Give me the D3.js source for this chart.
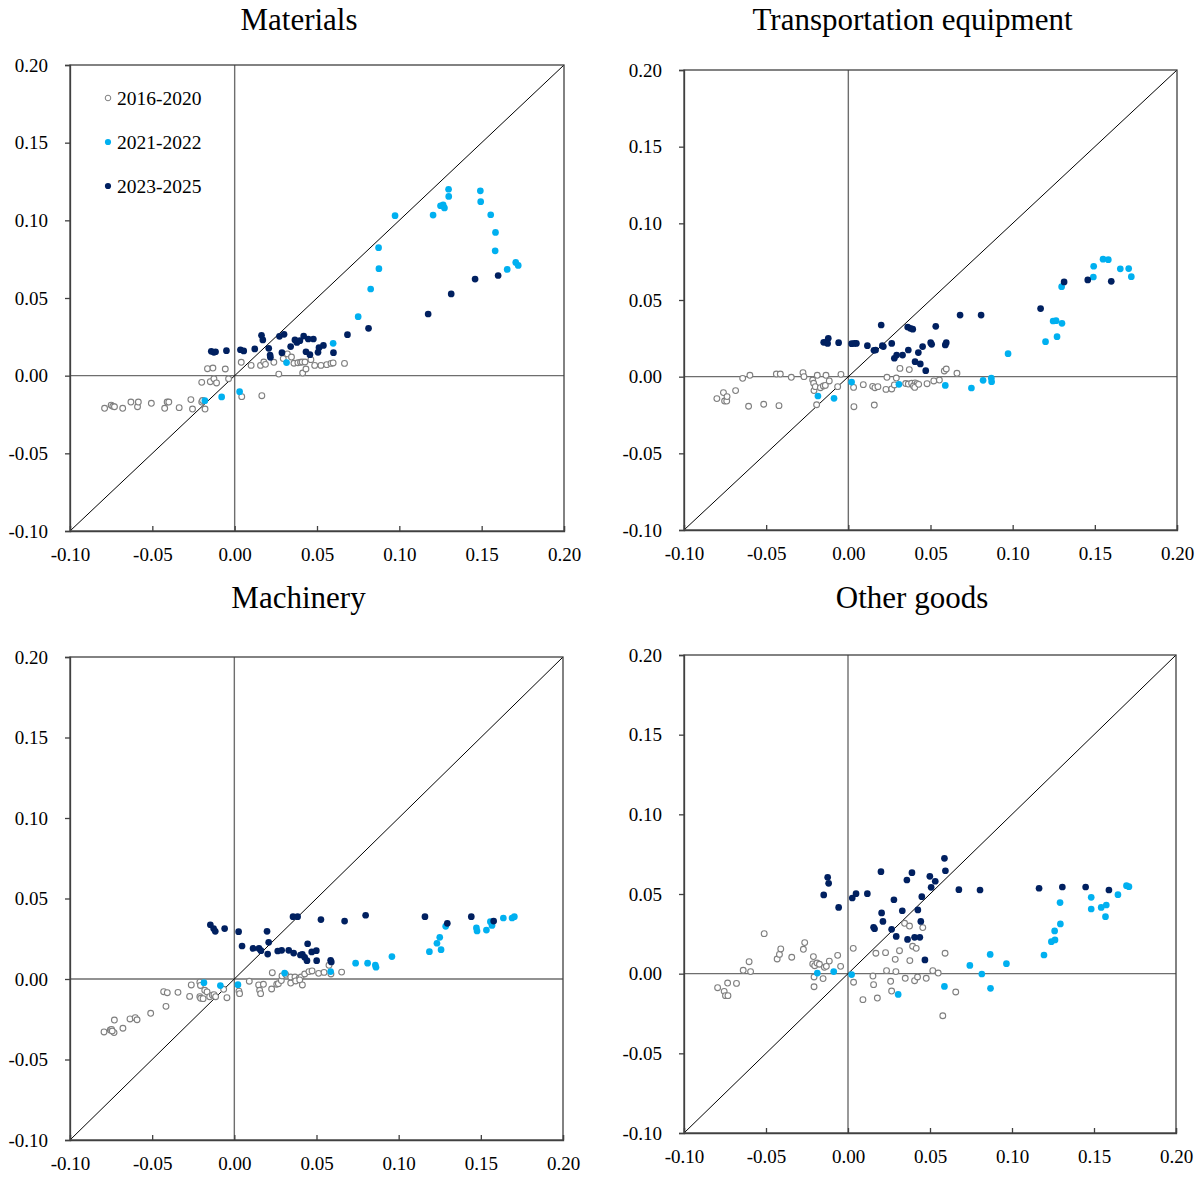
<!DOCTYPE html>
<html><head><meta charset="utf-8">
<script src="https://cdn.jsdelivr.net/npm/d3@7"></script>
<style>
body{margin:0;background:#fff;}
text{font-family:"Liberation Serif","Times New Roman",serif;fill:#000;}
</style></head>
<body><svg id="c" width="1204" height="1178"></svg>
<script>
const panelTitles = ["Materials","Transportation equipment","Machinery","Other goods"];
const seriesNames = ["2016-2020","2021-2022","2023-2025"];
const tickValues = [-0.10,-0.05,0.00,0.05,0.10,0.15,0.20];

const materials2016 = [[-0.079,-0.021],[-0.075,-0.019],[-0.074,-0.0197],[-0.073,-0.020],[-0.068,-0.021],[-0.063,-0.017],[-0.059,-0.020],[-0.0585,-0.017],[-0.0506,-0.0178],[-0.0425,-0.021],[-0.041,-0.017],[-0.040,-0.017],[-0.0337,-0.0206],[-0.0266,-0.0154],[-0.0256,-0.0215],[-0.020,-0.017],[-0.0195,-0.016],[-0.018,-0.0215],[-0.020,-0.0043],[-0.0148,-0.0039],[-0.0126,-0.002],[-0.011,-0.0047],[-0.0165,0.0045],[-0.0132,0.0049],[-0.0057,0.0043],[-0.0037,-0.002],[0.004,0.0086],[0.0043,-0.0135],[0.010,0.0066],[0.0157,0.0066],[0.0165,-0.0129],[0.0177,0.0088],[0.0187,0.0073],[0.0238,0.0086],[0.0268,0.001],[0.0295,0.011],[0.032,0.014],[0.0345,0.012],[0.036,0.008],[0.0384,0.0083],[0.040,0.0086],[0.041,0.0088],[0.0427,0.0088],[0.0413,0.0017],[0.0433,0.0043],[0.0463,0.0103],[0.0486,0.0066],[0.0524,0.0066],[0.0559,0.0071],[0.0585,0.0079],[0.0598,0.0082],[0.0667,0.0079]];
const materials2021 = [[-0.0181,-0.0161],[-0.0079,-0.0137],[0.003,-0.0103],[0.0315,0.0084],[0.0598,0.0208],[0.075,0.038],[0.0826,0.0558],[0.0876,0.0689],[0.0874,0.0824],[0.0974,0.103],[0.1205,0.1034],[0.125,0.1094],[0.1266,0.110],[0.1274,0.108],[0.1299,0.120],[0.130,0.1154],[0.1492,0.119],[0.1494,0.112],[0.1555,0.1036],[0.1584,0.0922],[0.1582,0.0804],[0.1655,0.0684],[0.1707,0.0729],[0.1722,0.071]];
const materials2023 = [[-0.0142,0.0157],[-0.0126,0.015],[-0.0116,0.0154],[-0.005,0.0161],[0.0035,0.0167],[0.0055,0.0159],[0.0122,0.0172],[0.0163,0.026],[0.0171,0.023],[0.0207,0.0176],[0.0215,0.0133],[0.0217,0.0118],[0.0272,0.0253],[0.030,0.0266],[0.0287,0.0148],[0.034,0.0187],[0.0366,0.023],[0.0378,0.0214],[0.0396,0.0225],[0.0419,0.0255],[0.0447,0.0236],[0.0478,0.0236],[0.0433,0.0154],[0.0457,0.0135],[0.0512,0.018],[0.0539,0.0195],[0.0506,0.015],[0.060,0.0148],[0.0685,0.0264],[0.0813,0.0305],[0.1175,0.0397],[0.1315,0.0526],[0.146,0.0622],[0.160,0.0645]];

const transport2016 = [[-0.080,-0.0143],[-0.076,-0.0104],[-0.0753,-0.0159],[-0.074,-0.0159],[-0.0738,-0.013],[-0.0686,-0.0091],[-0.0643,-0.0011],[-0.0599,0.0009],[-0.0607,-0.0193],[-0.0515,-0.018],[-0.0438,0.0017],[-0.0414,0.0017],[-0.0422,-0.0189],[-0.0347,-0.0004],[-0.0276,0.0026],[-0.027,0],[-0.0217,-0.0022],[-0.0211,-0.0043],[-0.0209,-0.0091],[-0.0201,-0.0065],[-0.0189,0.0009],[-0.0136,0.0009],[-0.017,-0.0072],[-0.0152,-0.0061],[-0.014,-0.0057],[-0.0116,-0.0028],[-0.0065,-0.0065],[-0.0045,0.0015],[-0.0193,-0.0183],[0.0032,-0.007],[0.0034,-0.0196],[0.0091,-0.0052],[0.0148,-0.0063],[0.0162,-0.0072],[0.018,-0.0065],[0.0158,-0.0185],[0.0229,-0.0083],[0.0235,-0.0004],[0.0264,-0.008],[0.028,-0.0054],[0.0292,-0.0009],[0.0314,0.0054],[0.0349,-0.0045],[0.0365,-0.0048],[0.0385,-0.0043],[0.0406,-0.0041],[0.0418,-0.0046],[0.0371,0.0046],[0.0396,-0.0061],[0.0404,-0.007],[0.0428,-0.005],[0.0479,-0.0046],[0.052,-0.0028],[0.0554,-0.0022],[0.0584,0.0037],[0.0596,0.005],[0.0661,0.0022]];
const transport2021 = [[-0.0185,-0.0126],[-0.0087,-0.0141],[0.002,-0.0035],[0.0308,-0.005],[0.059,-0.0057],[0.0749,-0.0074],[0.082,-0.0024],[0.087,-0.001],[0.0872,-0.0033],[0.0972,0.015],[0.120,0.0228],[0.127,0.0261],[0.1246,0.0363],[0.1264,0.0365],[0.130,0.0348],[0.1298,0.0587],[0.1491,0.065],[0.1493,0.072],[0.155,0.0766],[0.1582,0.0763],[0.1655,0.0703],[0.1706,0.0705],[0.1722,0.0652]];
const transport2023 = [[-0.015,0.0224],[-0.0134,0.0224],[-0.0122,0.025],[-0.0126,0.0217],[-0.0059,0.0222],[0.002,0.0215],[0.0037,0.0217],[0.0049,0.0217],[0.0116,0.0202],[0.0156,0.0172],[0.0166,0.0174],[0.020,0.0337],[0.0207,0.0202],[0.0213,0.0196],[0.0264,0.0217],[0.028,0.012],[0.0294,0.0141],[0.033,0.0141],[0.0361,0.0324],[0.0377,0.0315],[0.0392,0.031],[0.0365,0.0174],[0.0406,0.0098],[0.0426,0.0157],[0.0438,0.0083],[0.0452,0.0196],[0.0471,0.0039],[0.0501,0.0222],[0.0507,0.0211],[0.0532,0.0328],[0.059,0.0207],[0.0596,0.0222],[0.068,0.0402],[0.0808,0.0402],[0.117,0.0444],[0.1313,0.0618],[0.1457,0.0631],[0.160,0.0622]];

const machinery2016 = [[-0.0793,-0.0329],[-0.0755,-0.0317],[-0.0747,-0.0313],[-0.0732,-0.0333],[-0.0743,-0.0323],[-0.073,-0.0255],[-0.0678,-0.0306],[-0.0635,-0.0248],[-0.0603,-0.024],[-0.0592,-0.0253],[-0.0509,-0.0213],[-0.0416,-0.017],[-0.043,-0.0079],[-0.0408,-0.0085],[-0.0343,-0.0083],[-0.0272,-0.0108],[-0.0262,-0.0037],[-0.021,-0.002],[-0.0206,-0.004],[-0.021,-0.011],[-0.0205,-0.012],[-0.019,-0.0122],[-0.018,-0.007],[-0.0166,-0.008],[-0.015,-0.011],[-0.0134,-0.010],[-0.0124,-0.0097],[-0.0114,-0.011],[-0.0065,-0.0064],[-0.0045,-0.0116],[0.0028,-0.0075],[0.0032,-0.0091],[0.0091,-0.0014],[0.0148,-0.0037],[0.0154,-0.007],[0.016,-0.0091],[0.0177,-0.0033],[0.0227,-0.0062],[0.0231,0.0039],[0.0258,-0.0033],[0.0268,-0.0029],[0.0286,-0.001],[0.029,0.0019],[0.0312,0.0029],[0.0343,0.0012],[0.0369,0.0012],[0.0394,0.0004],[0.0406,0.0012],[0.0343,-0.0025],[0.0373,-0.0012],[0.0398,-0.0006],[0.0414,-0.0037],[0.0428,0.0031],[0.0454,0.0046],[0.0473,0.005],[0.0513,0.0035],[0.0546,0.0041],[0.0576,0.0085],[0.0588,0.0031],[0.0653,0.0043]];
const machinery2021 = [[-0.0185,-0.0023],[-0.0085,-0.0041],[0.0022,-0.0035],[0.0306,0.0037],[0.0586,0.0046],[0.0738,0.0098],[0.0811,0.0098],[0.0858,0.0087],[0.0862,0.0073],[0.0959,0.0139],[0.1187,0.017],[0.1233,0.0222],[0.125,0.0259],[0.1258,0.0182],[0.1286,0.0327],[0.1473,0.0317],[0.1477,0.0298],[0.1534,0.0304],[0.1558,0.0356],[0.1568,0.0333],[0.1637,0.0379],[0.169,0.0379],[0.1704,0.0387]];
const machinery2023 = [[-0.0146,0.0337],[-0.0126,0.0313],[-0.0116,0.0296],[-0.0059,0.0313],[0.0026,0.0294],[0.0047,0.0205],[0.0114,0.019],[0.015,0.019],[0.0162,0.0176],[0.0199,0.0296],[0.0209,0.0228],[0.0203,0.0155],[0.0264,0.0174],[0.0288,0.0178],[0.0331,0.0178],[0.0357,0.0387],[0.0385,0.0387],[0.0361,0.0161],[0.0402,0.0149],[0.0414,0.0153],[0.0428,0.0135],[0.0442,0.0114],[0.0446,0.0219],[0.0471,0.0168],[0.0499,0.0176],[0.0501,0.0114],[0.0527,0.0369],[0.0586,0.0116],[0.059,0.0106],[0.0671,0.036],[0.0799,0.0396],[0.116,0.0387],[0.1296,0.0346],[0.1442,0.0387],[0.1578,0.036]];

const other2016 = [[-0.0795,-0.0088],[-0.0755,-0.0111],[-0.0747,-0.0138],[-0.0732,-0.0138],[-0.0734,-0.0059],[-0.068,-0.0061],[-0.0639,0.0021],[-0.0594,0.0013],[-0.0603,0.0075],[-0.0511,0.0251],[-0.0432,0.0092],[-0.0418,0.0121],[-0.041,0.0155],[-0.0343,0.0103],[-0.0272,0.0153],[-0.0264,0.0195],[-0.0211,0.0107],[-0.0215,0.0061],[-0.0203,0.005],[-0.0189,0.0067],[-0.0174,0.0059],[-0.0207,-0.0021],[-0.0207,-0.0082],[-0.0152,-0.0031],[-0.0144,0.004],[-0.0132,0.0046],[-0.0114,0.0079],[-0.0063,0.0115],[-0.0045,0.0046],[0.0032,0.0159],[0.0034,-0.0054],[0.0091,-0.0163],[0.0152,-0.0015],[0.0156,-0.0069],[0.017,0.0128],[0.0179,-0.0153],[0.0229,0.0132],[0.0235,0.0019],[0.026,-0.0048],[0.0266,-0.0109],[0.0288,0.009],[0.0292,0.0013],[0.0314,0.0144],[0.0349,-0.0029],[0.0345,0.0316],[0.0375,0.0299],[0.0377,0.0082],[0.0394,0.0172],[0.0416,0.0159],[0.0406,-0.0044],[0.0424,-0.0021],[0.0456,0.0289],[0.0477,-0.0029],[0.0517,0.0019],[0.055,0.0004],[0.0592,0.0128],[0.0578,-0.0264],[0.0657,-0.0115]];
const other2021 = [[-0.0187,0.0004],[-0.0087,0.0013],[0.0022,-0.0006],[0.0306,-0.013],[0.0588,-0.008],[0.0743,0.0052],[0.0816,-0.0002],[0.0867,0.0121],[0.0869,-0.0092],[0.0966,0.0063],[0.1195,0.0117],[0.124,0.0201],[0.1262,0.0212],[0.126,0.0268],[0.1295,0.0312],[0.1293,0.0446],[0.1483,0.0479],[0.1483,0.0406],[0.1544,0.0416],[0.1575,0.0431],[0.157,0.0358],[0.1646,0.0496],[0.1698,0.0552],[0.1713,0.0546]];
const other2023 = [[-0.0124,0.0605],[-0.0118,0.0567],[-0.0148,0.0494],[-0.0057,0.0416],[0.0026,0.0475],[0.0049,0.0502],[0.0118,0.0502],[0.0201,0.064],[0.0205,0.0381],[0.0213,0.0328],[0.0156,0.0291],[0.0162,0.0282],[0.0266,0.0278],[0.028,0.0464],[0.0294,0.0234],[0.0331,0.0395],[0.0359,0.0588],[0.0363,0.0215],[0.039,0.0634],[0.0406,0.0228],[0.0438,0.0228],[0.0426,0.04],[0.0444,0.0328],[0.045,0.0483],[0.0469,0.0086],[0.0499,0.0611],[0.0532,0.058],[0.0507,0.0542],[0.0588,0.0724],[0.0594,0.0646],[0.0676,0.0527],[0.0805,0.0525],[0.1165,0.0536],[0.1307,0.0544],[0.1449,0.0544],[0.1591,0.0525]];

const panelSeries = [
  [materials2016, materials2021, materials2023],
  [transport2016, transport2021, transport2023],
  [machinery2016, machinery2021, machinery2023],
  [other2016, other2021, other2023]
];

// layout
const boxes = [
  {l:70, r:564, t:65, b:531},
  {l:684, r:1177, t:70, b:530},
  {l:70, r:563, t:657, b:1140},
  {l:684, r:1176, t:655, b:1133}
];
const titleY = [30, 30, 608, 608];
const GRAY = "#7f7f7f", LBLUE = "#00b0f0", NAVY = "#002060";
const FRAME = "#404040";

const svg = d3.select("#c");
const fmt = d => d.toFixed(2);

panelTitles.forEach((title, i) => {
  const bx = boxes[i];
  const x = d3.scaleLinear().domain([-0.10, 0.20]).range([bx.l, bx.r]);
  const y = d3.scaleLinear().domain([-0.10, 0.20]).range([bx.b, bx.t]);
  const g = svg.append("g");

  g.append("text").attr("x", (bx.l + bx.r) / 2 - 18).attr("y", titleY[i])
    .attr("text-anchor", "middle").style("font-size", "31px").text(title);

  // zero lines
  g.append("line").attr("x1", x(0)).attr("x2", x(0)).attr("y1", y(-0.10)).attr("y2", y(0.20))
    .attr("stroke", "#6e6e6e").attr("stroke-width", 1.4);
  g.append("line").attr("x1", x(-0.10)).attr("x2", x(0.20)).attr("y1", y(0)).attr("y2", y(0))
    .attr("stroke", "#6e6e6e").attr("stroke-width", 1.4);
  // 45-degree line
  g.append("line").attr("x1", x(-0.10)).attr("y1", y(-0.10)).attr("x2", x(0.20)).attr("y2", y(0.20))
    .attr("stroke", "#000").attr("stroke-width", 1);

  // frame
  g.append("rect").attr("x", bx.l).attr("y", bx.t).attr("width", bx.r - bx.l).attr("height", bx.b - bx.t)
    .attr("fill", "none").attr("stroke", FRAME).attr("stroke-width", 1.3);

  const ax = g.append("g").attr("transform", `translate(0,${bx.b})`)
    .call(d3.axisBottom(x).tickValues(tickValues).tickFormat(fmt).tickSize(-5).tickPadding(17));
  const ay = g.append("g").attr("transform", `translate(${bx.l},0)`)
    .call(d3.axisLeft(y).tickValues(tickValues).tickFormat(fmt).tickSize(5).tickPadding(17));
  [ax, ay].forEach(a => {
    a.select(".domain").attr("stroke", FRAME).attr("stroke-width", 1.3);
    a.selectAll(".tick line").attr("stroke", FRAME).attr("stroke-width", 1.3);
    a.selectAll(".tick text").style("font-size", "19px").style("font-family", '"Liberation Serif","Times New Roman",serif').attr("fill", "#000");
  });

  const [s0, s1, s2] = panelSeries[i];
  g.append("g").selectAll("circle").data(s0).join("circle")
    .attr("cx", d => x(d[0])).attr("cy", d => y(d[1])).attr("r", 2.9)
    .attr("fill", "#fff").attr("stroke", GRAY).attr("stroke-width", 1.1);
  g.append("g").selectAll("circle").data(s1).join("circle")
    .attr("cx", d => x(d[0])).attr("cy", d => y(d[1])).attr("r", 3.35)
    .attr("fill", LBLUE);
  g.append("g").selectAll("circle").data(s2).join("circle")
    .attr("cx", d => x(d[0])).attr("cy", d => y(d[1])).attr("r", 3.35)
    .attr("fill", NAVY);

  if (i === 0) {
    const leg = g.append("g");
    const styles = [
      {fill:"#fff", stroke:GRAY},
      {fill:LBLUE, stroke:"none"},
      {fill:NAVY, stroke:"none"}
    ];
    seriesNames.forEach((n, k) => {
      const cy = 98 + k * 44;
      leg.append("circle").attr("cx", 108).attr("cy", cy).attr("r", k === 0 ? 2.8 : 3.1)
        .attr("fill", styles[k].fill).attr("stroke", styles[k].stroke).attr("stroke-width", 1);
      leg.append("text").attr("x", 117).attr("y", cy + 6.5).style("font-size", "19.5px").text(n);
    });
  }
});
</script></body></html>
